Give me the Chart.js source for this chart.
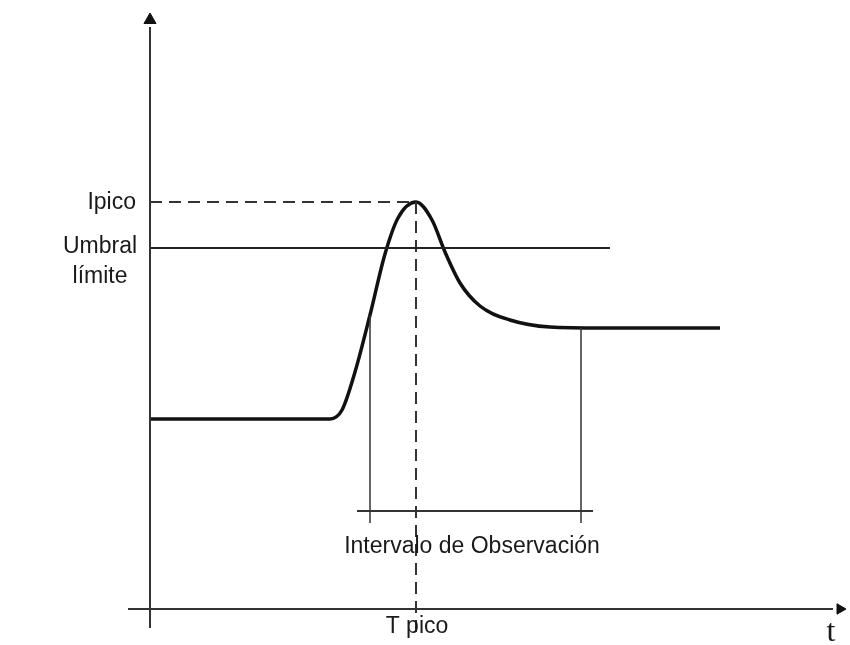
<!DOCTYPE html>
<html>
<head>
<meta charset="utf-8">
<script src="https://cdn.jsdelivr.net/npm/chart.js@4"></script>
<style>
  body { margin: 0; background: #fff; }
  canvas { display: block; }
</style>
</head>
<body>
<canvas id="pico" width="850" height="645"></canvas>
<script>
// ============================================================
// DATA (time units, intensity units; origin at axis crossing)
// ============================================================
const curveT = [0, 18.0, 19.2, 20.5, 22.0, 23.5, 24.8, 26.6, 28.2, 29.5, 31.0, 33.0, 36.0, 40.0, 45.0, 57.0];
const curveI = [19.0, 19.0, 19.9, 23.7, 29.4, 35.5, 39.1, 40.7, 38.9, 35.7, 32.6, 30.3, 28.9, 28.2, 28.1, 28.1];

const umbral = 36.1;          // threshold level
const umbralEnd = 46.0;       // threshold line end (t)
const iPico = 40.7;           // peak value
const tPico = 26.6;           // peak time
const obsStart = 22.0;        // observation interval start
const obsEnd = 43.1;          // observation interval end
const obsStartTop = 29.4;     // curve level at start
const obsEndTop = 28.1;       // curve level at end
const obsBarY = 9.8;          // bracket level
const obsBarT = [20.7, 44.3]; // bracket extent
const obsTickLow = 8.6;

const axisT = [-2.2, 69.8];   // x axis extent
const axisI = [-1.9, 59.7];   // y axis extent

const labels = [
  { text: 'Ipico', t: -1.4, i: 40.6, align: 'right' },
  { text: 'Umbral', t: -5.0, i: 36.2, align: 'center' },
  { text: 'límite', t: -5.0, i: 33.2, align: 'center' },
  { text: 'Intervalo de Observación', t: 32.2, i: 6.2, align: 'center' },
  { text: 'T pico', t: 26.7, i: -1.8, align: 'center' },
  { text: 't', t: 68.1, i: -2.4, align: 'center', serif: true }
];

const pts = (xs, ys) => xs.map((x, k) => ({ x, y: ys[k] }));

const seg = (data, color, width, dash) => ({
  data, showLine: true, borderColor: color, borderWidth: width,
  borderDash: dash || [], pointRadius: 0, clip: false, tension: 0
});

// text labels drawn at data positions
const textPlugin = {
  id: 'texts',
  afterDatasetsDraw(chart) {
    const { ctx, scales: { x, y } } = chart;
    ctx.save();
    ctx.fillStyle = '#1a1a1a';
    ctx.textBaseline = 'middle';
    labels.forEach(l => {
      ctx.font = l.serif ? '32px "Liberation Serif"' : '23px "Liberation Sans"';
      ctx.textAlign = l.align;
      ctx.fillText(l.text, x.getPixelForValue(l.t), y.getPixelForValue(l.i));
    });
    ctx.restore();
  }
};

new Chart(document.getElementById('pico'), {
  type: 'scatter',
  data: {
    datasets: [
      // axes
      seg([{ x: 0, y: axisI[0] }, { x: 0, y: axisI[1] - 1.5 }], '#333', 2),
      seg([{ x: axisT[0], y: 0 }, { x: axisT[1] - 1.5, y: 0 }], '#333', 2),
      { data: [{ x: 0, y: axisI[1] - 0.8 }], pointStyle: 'triangle', pointRadius: 7, pointRotation: 0,
        backgroundColor: '#111', borderColor: '#111', borderWidth: 1, clip: false },
      { data: [{ x: axisT[1] - 0.8, y: 0 }], pointStyle: 'triangle', pointRadius: 6, pointRotation: 90,
        backgroundColor: '#111', borderColor: '#111', borderWidth: 1, clip: false },
      // threshold
      seg([{ x: 0, y: umbral }, { x: umbralEnd, y: umbral }], '#222', 2),
      // peak guides
      seg([{ x: 0, y: iPico }, { x: tPico, y: iPico }], '#333', 2, [12, 7]),
      seg([{ x: tPico, y: iPico }, { x: tPico, y: axisI[0] - 0.4 }], '#333', 2, [12, 7]),
      // observation interval
      seg([{ x: obsStart, y: obsStartTop }, { x: obsStart, y: obsTickLow }], '#333', 1.5),
      seg([{ x: obsEnd, y: obsEndTop }, { x: obsEnd, y: obsTickLow }], '#333', 1.5),
      seg([{ x: obsBarT[0], y: obsBarY }, { x: obsBarT[1], y: obsBarY }], '#333', 2),
      // signal curve
      { data: pts(curveT, curveI), showLine: true, borderColor: '#111', borderWidth: 3.5,
        pointRadius: 0, cubicInterpolationMode: 'monotone', clip: false }
    ]
  },
  options: {
    responsive: false, animation: false,
    layout: { padding: 0, autoPadding: false },
    plugins: { legend: { display: false }, tooltip: { enabled: false } },
    scales: {
      x: { type: 'linear', min: -15, max: 70, display: false },
      y: { type: 'linear', min: -3.6, max: 60.9, display: false }
    }
  },
  plugins: [textPlugin]
});
</script>
</body>
</html>
